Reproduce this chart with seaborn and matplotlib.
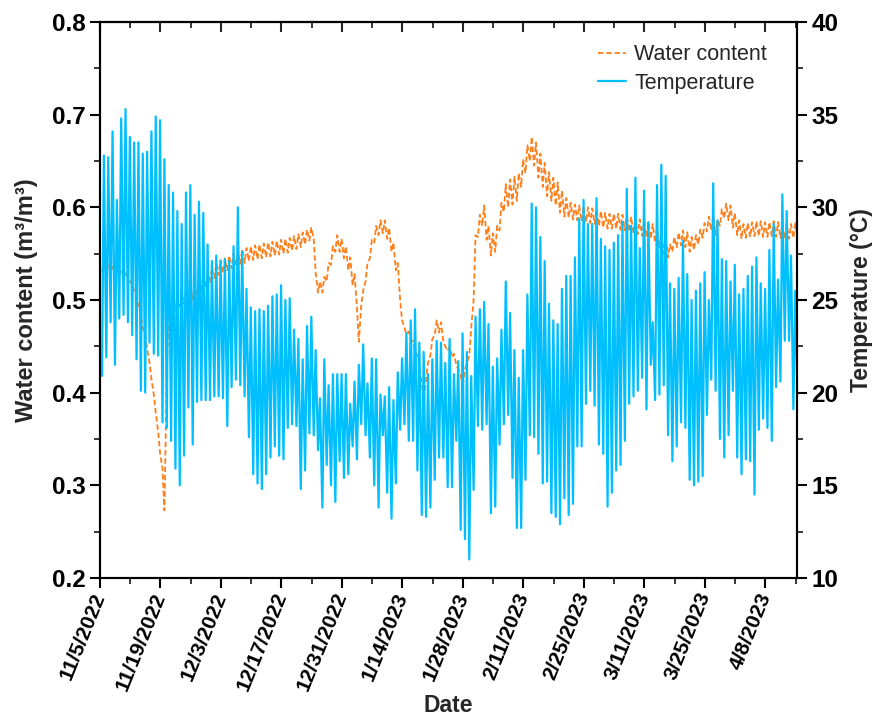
import numpy as np
import pandas as pd
import matplotlib
matplotlib.use("Agg")
import matplotlib.pyplot as plt
import matplotlib.dates as mdates
from matplotlib.ticker import MultipleLocator, FixedLocator
from matplotlib.lines import Line2D
import seaborn as sns

# ---------------- data ----------------
start_date = "2022-11-05"

# daily maximum temperature (°C), one value per day from 11/5/2022
t_max = [32.8, 32.7, 34.1, 30.4, 34.8, 35.3, 33.8, 33.5, 33.5, 32.9,
         33.0, 34.1, 34.9, 34.7, 32.6, 31.2, 30.8, 29.8, 29.1, 30.8,
         31.2, 29.6, 30.3, 29.7, 28.0, 27.1, 27.4,
         27.1, 27.2, 27.1, 27.9, 30.0, 27.6, 25.6, 24.6, 24.4, 24.5,
         24.4, 24.7, 25.2, 25.3, 25.8, 25.0, 25.1, 23.4, 22.9, 21.8,
         23.6, 24.1, 22.3, 19.7, 21.8, 20.4, 21.0,
         21.0, 21.0, 21.0, 19.4, 20.6, 21.5, 22.6, 20.5, 21.85, 21.8,
         19.9, 19.8, 20.3, 19.6, 21.1, 21.85, 23.2, 23.9, 24.5, 22.7,
         22.2, 21.0, 21.8, 22.8, 22.7, 21.6, 22.9,
         21.0, 21.7, 23.2, 22.2, 20.9, 24.1, 24.5, 24.9, 23.7, 21.4,
         21.85, 23.4, 26.0, 24.3, 22.3, 20.8, 22.3, 25.3, 30.2, 30.0,
         28.4, 27.1, 24.8, 23.9, 23.7, 25.6, 26.3,
         26.3, 27.3, 29.4, 30.4, 29.1, 29.1, 30.5, 28.3, 27.9, 27.7,
         28.1, 28.5, 29.2, 31.0, 29.0, 31.6, 27.8, 30.9, 29.2, 23.8,
         31.2, 32.3, 31.7, 25.9, 25.6, 26.2, 28.2, 26.4,
         25.0, 25.5, 25.9, 26.5, 25.0, 31.3, 29.3, 27.2, 27.1, 26.0,
         26.9, 25.3, 25.6, 26.3, 26.8, 27.3, 25.9, 25.6, 27.7, 29.1,
         26.1, 30.7, 29.8, 27.4, 25.5, 25.4]

# daily minimum temperature (°C)
t_min = [20.9, 21.9, 23.8, 21.5, 24.0, 24.2, 23.8, 23.1, 21.8, 20.1,
         20.0, 22.7, 22.1, 22.0, 18.4, 18.1, 17.4, 15.9, 15.0, 16.6,
         19.2, 17.2, 19.5, 19.6, 19.6, 19.6, 19.8,
         19.8, 19.7, 18.2, 20.3, 20.7, 20.4, 19.8, 17.6, 15.6, 15.1,
         14.8, 15.6, 16.5, 17.1, 16.6, 16.4, 18.1, 18.3, 18.2, 14.8,
         15.8, 17.8, 17.7, 16.9, 13.8, 16.1, 15.0,
         14.1, 16.3, 15.4, 15.6, 17.1, 16.4, 18.3, 17.7, 16.5, 15.0,
         13.8, 17.7, 14.6, 13.2, 15.1, 18.0, 18.3, 17.4, 17.4, 15.8,
         13.4, 13.3, 13.8, 15.3, 16.5, 16.5, 14.9, 14.9,
         17.4, 12.6, 12.1, 11.0, 14.75, 18.2, 18.0, 18.3, 13.5, 13.85,
         17.2, 18.3, 18.8, 15.4, 12.7, 12.7, 15.3, 17.7, 17.6, 16.7,
         15.1, 15.2, 13.5, 13.3, 12.9, 14.3, 13.4,
         14.0, 17.1, 17.1, 19.4, 20.1, 19.3, 17.2, 16.7, 13.85, 14.6,
         15.8, 16.1, 17.4, 19.4, 19.8, 20.1, 20.8, 19.1, 21.5, 19.6,
         19.9, 20.4, 17.7, 16.3, 17.1, 18.4, 18.1,
         15.3, 15.0, 15.2, 15.5, 18.8, 20.7, 20.1, 17.5, 16.5, 17.7,
         20.1, 16.5, 15.6, 16.4, 16.3, 14.5, 18.0, 18.6, 18.1, 17.4,
         20.3, 20.6, 22.8, 22.8, 19.1, 19.1]

# water content (m3/m3), morning reading
wc_am = [0.531, 0.530, 0.529, 0.528, 0.527, 0.525, 0.521, 0.516, 0.505, 0.485,
         0.462, 0.432, 0.398, 0.358, 0.318, 0.420, 0.484, 0.489, 0.493, 0.496,
         0.498, 0.501, 0.505, 0.509, 0.514, 0.519, 0.524, 0.527, 0.529, 0.532,
         0.534, 0.537, 0.539, 0.540, 0.542, 0.543, 0.544, 0.545, 0.546, 0.547,
         0.548, 0.549, 0.550, 0.551, 0.553, 0.555, 0.557, 0.560, 0.564, 0.566,
         0.508, 0.508, 0.520, 0.538, 0.552, 0.552, 0.545, 0.532, 0.516, 0.492,
         0.495, 0.520, 0.545, 0.562, 0.570, 0.572, 0.566, 0.552, 0.532, 0.500,
         0.470, 0.466, 0.455, 0.440, 0.410, 0.415, 0.440, 0.462, 0.465, 0.455,
         0.445, 0.438, 0.430, 0.420, 0.425, 0.440, 0.500, 0.568, 0.580, 0.565,
         0.548, 0.552, 0.575, 0.595, 0.600, 0.603, 0.607, 0.622, 0.637, 0.650,
         0.645, 0.632, 0.622, 0.612, 0.607, 0.602, 0.594, 0.590, 0.589, 0.587,
         0.586, 0.585, 0.584, 0.583, 0.582, 0.580, 0.578, 0.577, 0.577, 0.577,
         0.576, 0.575, 0.574, 0.572, 0.571, 0.569, 0.568, 0.566, 0.562, 0.557,
         0.550, 0.546, 0.552, 0.557, 0.559, 0.557, 0.552, 0.554, 0.560, 0.567,
         0.574, 0.575, 0.570, 0.580, 0.588, 0.586, 0.578, 0.570, 0.566, 0.567,
         0.568, 0.569, 0.569, 0.568, 0.568, 0.569, 0.568, 0.567, 0.566, 0.566,
         0.567, 0.567]

# water content (m3/m3), afternoon reading
wc_pm = [0.538, 0.537, 0.536, 0.535, 0.533, 0.529, 0.520, 0.510, 0.492, 0.470,
         0.448, 0.415, 0.378, 0.335, 0.273, 0.488, 0.498, 0.503, 0.507, 0.511,
         0.514, 0.517, 0.521, 0.525, 0.530, 0.535, 0.540, 0.543, 0.545, 0.548,
         0.550, 0.553, 0.555, 0.556, 0.558, 0.559, 0.560, 0.561, 0.562, 0.563,
         0.564, 0.565, 0.566, 0.567, 0.569, 0.571, 0.573, 0.576, 0.578, 0.530,
         0.520, 0.525, 0.540, 0.558, 0.570, 0.566, 0.558, 0.546, 0.528, 0.455,
         0.510, 0.540, 0.565, 0.580, 0.586, 0.586, 0.578, 0.562, 0.540, 0.478,
         0.463, 0.458, 0.445, 0.428, 0.392, 0.432, 0.458, 0.478, 0.476, 0.450,
         0.450, 0.442, 0.425, 0.405, 0.432, 0.470, 0.570, 0.592, 0.602, 0.580,
         0.572, 0.580, 0.605, 0.625, 0.630, 0.633, 0.637, 0.652, 0.667, 0.676,
         0.670, 0.658, 0.648, 0.638, 0.632, 0.627, 0.618, 0.610, 0.605, 0.603,
         0.602, 0.601, 0.600, 0.599, 0.598, 0.596, 0.594, 0.593, 0.593, 0.593,
         0.592, 0.591, 0.590, 0.588, 0.587, 0.585, 0.584, 0.582, 0.578, 0.573,
         0.566, 0.560, 0.568, 0.573, 0.575, 0.573, 0.568, 0.570, 0.576, 0.583,
         0.590, 0.591, 0.586, 0.598, 0.604, 0.602, 0.594, 0.586, 0.582, 0.583,
         0.584, 0.585, 0.585, 0.584, 0.584, 0.585, 0.584, 0.583, 0.582, 0.582,
         0.583, 0.583]

tick_dates = ["2022-11-05", "2022-11-19", "2022-12-03", "2022-12-17",
              "2022-12-31", "2023-01-14", "2023-01-28", "2023-02-11",
              "2023-02-25", "2023-03-11", "2023-03-25", "2023-04-08"]
tick_labels = ["11/5/2022", "11/19/2022", "12/3/2022", "12/17/2022",
               "12/31/2022", "1/14/2023", "1/28/2023", "2/11/2023",
               "2/25/2023", "3/11/2023", "3/25/2023", "4/8/2023"]
minor_dates = ["2022-11-12", "2022-11-26", "2022-12-10", "2022-12-24",
               "2023-01-07", "2023-01-21", "2023-02-04", "2023-02-18",
               "2023-03-04", "2023-03-18", "2023-04-01", "2023-04-15"]
x_end = "2023-04-15 07:00"

# reading times: minimum in the morning, maximum in the evening
am_offset_h = 11
pm_offset_h = 21.6

# ---------------- build frame ----------------
days = pd.date_range(start_date, periods=len(t_max), freq="D")
t_am = days + pd.Timedelta(hours=am_offset_h)
t_pm = days + pd.Timedelta(hours=pm_offset_h)
n = len(days)
times = np.empty(2 * n, dtype="datetime64[ns]")
times[0::2] = t_am.values
times[1::2] = t_pm.values
temp = np.empty(2 * n)
temp[0::2] = t_min
temp[1::2] = t_max
wc = np.empty(2 * n)
wc[0::2] = wc_am
wc[1::2] = wc_pm
df = pd.DataFrame({"time": pd.to_datetime(times), "temp": temp, "wc": wc})

# ---------------- plot ----------------
sns.set_theme(style="ticks")
plt.rcParams["font.family"] = ["Liberation Sans", "DejaVu Sans"]

ORANGE = "#FF7F1A"
CYAN = "#00BFFF"

fig = plt.figure(figsize=(8.83, 7.19), dpi=100)
ax = fig.add_axes([100 / 883, 1 - 578 / 719, 697 / 883, 556 / 719])
ax2 = ax.twinx()

sns.lineplot(data=df, x="time", y="wc", ax=ax, color=ORANGE, lw=1.3,
             estimator=None, sort=False, linestyle=(0, (3, 1.6)))
sns.lineplot(data=df, x="time", y="temp", ax=ax2, color=CYAN, lw=1.6,
             estimator=None, sort=False)

ax.set_xlim(pd.Timestamp(start_date), pd.Timestamp(x_end))
ax.set_ylim(0.2, 0.8)
ax2.set_ylim(10, 40)

major_pos = mdates.date2num(pd.to_datetime(tick_dates))
minor_pos = mdates.date2num(pd.to_datetime(minor_dates))
ax.xaxis.set_major_locator(FixedLocator(major_pos))
ax.xaxis.set_minor_locator(FixedLocator(minor_pos))
ax.set_xticklabels(tick_labels, rotation=68, ha="right", va="center",
                   rotation_mode="anchor", fontweight="bold", fontsize=15)

ax.yaxis.set_major_locator(MultipleLocator(0.1))
ax.yaxis.set_minor_locator(MultipleLocator(0.05))
ax2.yaxis.set_major_locator(MultipleLocator(5))
ax2.yaxis.set_minor_locator(MultipleLocator(2.5))
ax.yaxis.set_major_formatter(matplotlib.ticker.FormatStrFormatter("%.1f"))

for a in (ax, ax2):
    for sp in a.spines.values():
        sp.set_linewidth(1.5)
        sp.set_color("black")
    a.tick_params(which="major", length=7, width=1.5, direction="out",
                  colors="black")
    a.tick_params(which="minor", length=4, width=1.3, direction="out")
    a.tick_params(axis="y", labelsize=17.5)
    for lab in a.get_yticklabels():
        lab.set_fontweight("bold")

ax.tick_params(axis="x", which="major", pad=4)

top = ax.secondary_xaxis("top")
top.xaxis.set_major_locator(FixedLocator(major_pos))
top.xaxis.set_minor_locator(FixedLocator(minor_pos))
top.tick_params(which="major", direction="in", length=7, width=1.5,
                labeltop=False)
top.tick_params(which="minor", direction="in", length=4, width=1.3)
top.spines["top"].set_linewidth(1.5)

ax.set_xlabel("Date", fontsize=16.5, fontweight="bold", labelpad=0)
ax.set_ylabel("Water content (m³/m³)", fontsize=17, fontweight="bold",
              labelpad=10)
ax2.set_ylabel("Temperature (°C)", fontsize=16.5, fontweight="bold",
               labelpad=8)

ax.grid(False)
ax2.grid(False)
if ax.get_legend():
    ax.get_legend().remove()

handles = [Line2D([], [], color=ORANGE, lw=1.3, linestyle=(0, (3, 1.6))),
           Line2D([], [], color=CYAN, lw=1.6)]
ax2.legend(handles, ["Water content", "Temperature"], loc="upper right",
           bbox_to_anchor=(0.985, 0.995), frameon=False, fontsize=15.5,
           handlelength=1.3, handletextpad=0.4, labelspacing=0.35)

fig.savefig("out.png", dpi=100)
